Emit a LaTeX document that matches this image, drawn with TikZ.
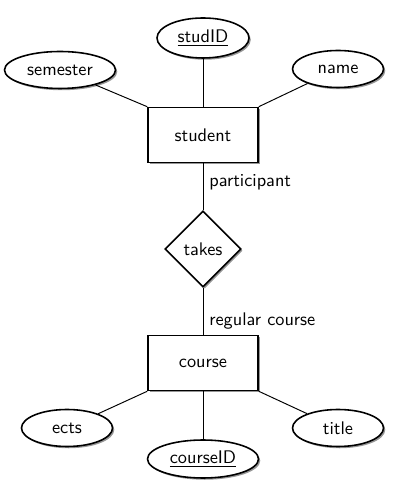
\documentclass[tikz,border=0pt]{standalone}
\usepackage{xcolor}
\usepackage{tikz}
\usetikzlibrary{positioning,shapes.geometric,shadows}
\definecolor{erink}{HTML}{000000}
\definecolor{ershadow}{HTML}{8A8A8A}

\begin{document}
\begin{tikzpicture}[every node/.style={font=\sffamily\fontsize{10.4pt}{12pt}\selectfont},
  entity/.style={draw=erink,line width=0.9pt,fill=white,minimum width=2.2cm,minimum height=1.1cm,
    drop shadow={shadow xshift=1pt,shadow yshift=-1pt,fill=ershadow,opacity=0.9}},
  attrib/.style={draw=erink,line width=0.9pt,fill=white,ellipse,inner sep=0pt,minimum width=1.82cm,minimum height=0.74cm,
    drop shadow={shadow xshift=1pt,shadow yshift=-1pt,fill=ershadow,opacity=0.9}},
  relation/.style={draw=erink,line width=0.9pt,fill=white,diamond,aspect=1,inner sep=0pt,minimum size=1.52cm,
    drop shadow={shadow xshift=1pt,shadow yshift=-1pt,fill=ershadow,opacity=0.9}},
  link/.style={draw=erink,line width=0.55pt}]
  \useasboundingbox (0,0) rectangle (8.2,9.88);

  % entities
  \node[entity] (student) at (4.06,7.18) {student};
  \node[relation] (takes) at (4.06,4.9) {takes};
  \node[entity] (course) at (4.06,2.62) {course};

  % attributes of student
  \node[attrib,minimum width=1.84cm,minimum height=0.8cm] (studID) at (4.06,9.12) {\underline{studID}};
  \node[attrib,minimum width=2.22cm] (semester) at (1.2,8.48) {semester};
  \node[attrib] (name) at (6.76,8.5) {name};

  % attributes of course
  \node[attrib] (ects) at (1.34,1.32) {ects};
  \node[attrib,minimum width=2.22cm,minimum height=0.76cm] (courseID) at (4.06,0.7) {\underline{courseID}};
  \node[attrib] (title) at (6.76,1.32) {title};

  % links
  \draw[link] (studID) -- (student);
  \draw[link] (semester) -- (student.north west);
  \draw[link] (name) -- (student.north east);
  \draw[link] (student) -- node[right,pos=0.4] {participant} (takes);
  \draw[link] (takes) -- node[right,pos=0.7] {regular course} (course);
  \draw[link] (course.south west) -- (ects);
  \draw[link] (course) -- (courseID);
  \draw[link] (course.south east) -- (title);
\end{tikzpicture}
\end{document}
